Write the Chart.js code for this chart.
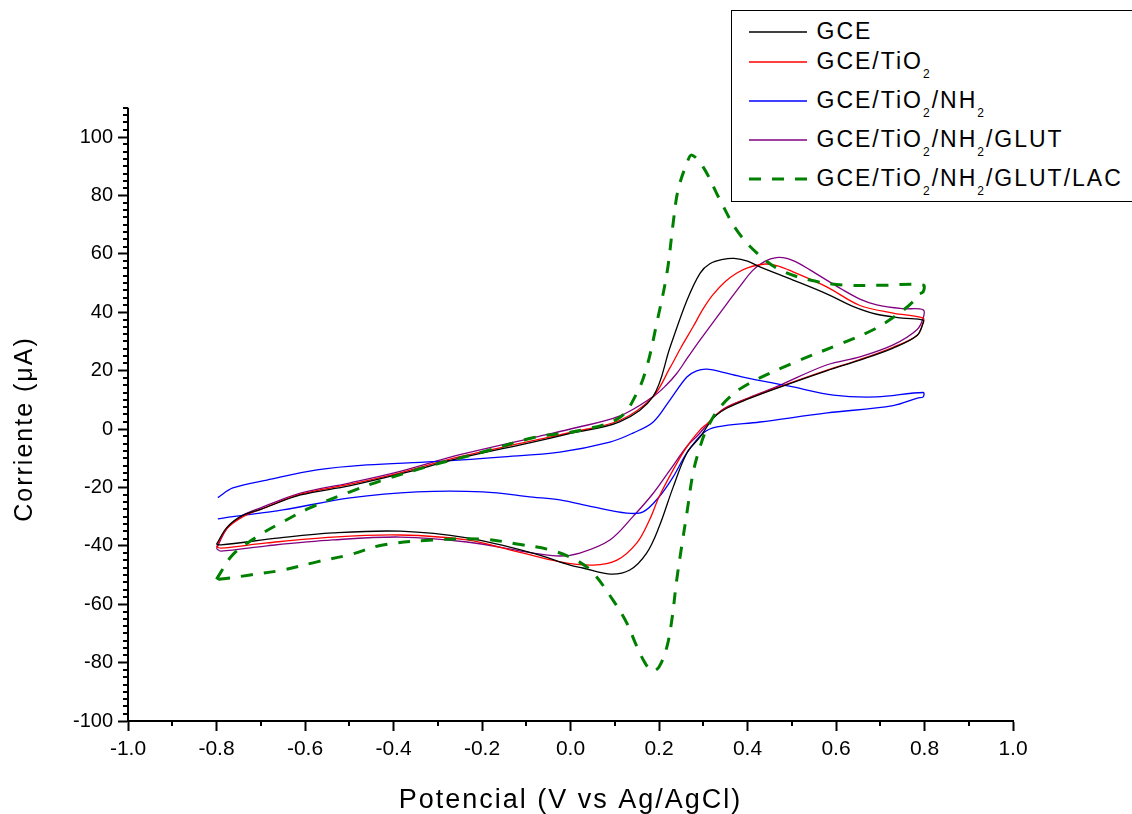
<!DOCTYPE html>
<html>
<head>
<meta charset="utf-8">
<title>Voltamperometría cíclica</title>
<script src="https://cdn.jsdelivr.net/npm/chart.js@4.4.1/dist/chart.umd.min.js"></script>
<style>
  html, body { margin: 0; padding: 0; background: #fff; }
  #wrap { position: relative; width: 1132px; height: 814px; overflow: hidden; }
  #cv { position: absolute; left: 0; top: 0; }
  #legend {
    position: absolute; left: 731px; top: 10px; width: 430px; height: 192px;
    box-sizing: border-box; border: 1.5px solid #000; background: #fff;
    padding-top: 5px;
    font-family: "Liberation Sans", Arial, sans-serif; font-size: 23px;
    letter-spacing: 2px; color: #000;
  }
  #legend .row { position: relative; height: 39px; line-height: 30px; padding-left: 84.5px; white-space: nowrap; }
  #legend .row:first-child { height: 30px; }
  #legend .row svg { position: absolute; left: 16.5px; top: 12.5px; }
  #legend sub { font-size: 12px; vertical-align: baseline; position: relative; top: 9px; line-height: 0; }
</style>
</head>
<body>
<div id="wrap">
  <canvas id="cv" width="1132" height="814"></canvas>
  <div id="legend"></div>
</div>
<script>
// Potential (V) / current (uA), forward scan then reverse scan
const potGCE = [-0.80, -0.776, -0.74, -0.70, -0.61, -0.50, -0.385, -0.25, -0.085, 0.0, 0.112, 0.186, 0.225, 0.263, 0.293, 0.315, 0.345, 0.37, 0.40, 0.428, 0.503, 0.58, 0.638, 0.692, 0.75, 0.797,
                0.797, 0.783, 0.729, 0.654, 0.58, 0.467, 0.40, 0.354, 0.33, 0.315, 0.293, 0.263, 0.232, 0.2, 0.172, 0.134, 0.089, 0.028, -0.001, -0.085, -0.234, -0.385, -0.537, -0.657, -0.79, -0.80];
const curGCE = [-39.5, -33.6, -29.5, -27.5, -22.6, -19.5, -15.4, -10, -4.5, -1.5, 2.5, 11, 28, 44, 53.4, 56.6, 58.1, 58.4, 57.5, 55.5, 51, 46.2, 42, 39.3, 38, 37.3,
                36.3, 32, 27.7, 23.6, 20, 14, 10.2, 7.2, 4.8, 2.3, -2.7, -8.2, -19.9, -33.6, -42.5, -48.3, -49.7, -47.6, -46.6, -42.5, -37.3, -35, -35.6, -37.3, -39.7, -39.5];

const potTiO2 = [-0.80, -0.776, -0.74, -0.70, -0.61, -0.50, -0.385, -0.25, -0.085, 0.0, 0.112, 0.186, 0.225, 0.25, 0.277, 0.30, 0.322, 0.35, 0.376, 0.40, 0.44, 0.47, 0.503, 0.58, 0.654, 0.729, 0.797,
                 0.797, 0.783, 0.729, 0.654, 0.58, 0.467, 0.40, 0.354, 0.33, 0.31, 0.293, 0.263, 0.232, 0.2, 0.179, 0.15, 0.105, 0.051, -0.024, -0.121, -0.234, -0.385, -0.537, -0.686, -0.79, -0.80];
const curTiO2 = [-40.4, -34, -30, -27.5, -22.3, -19, -15, -9.5, -4, -1.2, 3, 11, 21, 28, 35, 41.2, 46, 50.5, 53.4, 55.2, 56.5, 55.8, 53.8, 48.6, 42.3, 39.7, 38,
                 36.5, 32, 28, 23.8, 20.2, 14.2, 10.4, 7.4, 5, 2, -0.3, -6, -14, -23.3, -31, -39, -44.9, -46.6, -45.5, -42, -38, -36.3, -37, -39, -40.8, -40.4];

const potNH2 = [-0.797, -0.763, -0.686, -0.573, -0.46, -0.31, -0.159, -0.024, 0.089, 0.141, 0.187, 0.225, 0.263, 0.285, 0.308, 0.34, 0.39, 0.503, 0.594, 0.692, 0.797,
                0.797, 0.784, 0.729, 0.58, 0.428, 0.331, 0.30, 0.263, 0.232, 0.2, 0.164, 0.127, 0.051, -0.024, -0.085, -0.198, -0.347, -0.498, -0.65, -0.763, -0.797];
const curNH2 = [-23.5, -20.2, -17.5, -14, -12.3, -11.2, -9.6, -7.9, -4.5, -1.4, 2.4, 10, 17.8, 19.9, 20.5, 19.6, 17.8, 14.4, 11.6, 11, 12.5,
                11, 10.6, 8, 5.5, 2.4, 0.7, -1.4, -8.2, -16.4, -23.3, -28.4, -28.8, -26.7, -24.3, -23.3, -21.5, -21.5, -23.6, -27.7, -30, -30.8];

const potGLUT = [-0.80, -0.776, -0.74, -0.70, -0.61, -0.50, -0.385, -0.25, -0.085, 0.0, 0.112, 0.186, 0.215, 0.24, 0.265, 0.293, 0.354, 0.385, 0.413, 0.44, 0.465, 0.489, 0.515, 0.541, 0.616, 0.654, 0.692, 0.75, 0.797,
                 0.797, 0.783, 0.729, 0.654, 0.58, 0.467, 0.40, 0.354, 0.33, 0.315, 0.29, 0.263, 0.225, 0.187, 0.141, 0.089, 0.021, -0.024, -0.085, -0.234, -0.385, -0.537, -0.686, -0.79, -0.80];
const curGLUT = [-41, -34, -29.5, -27, -22, -18.5, -14.5, -8.8, -3, 0, 4.5, 11, 14.8, 19, 24.5, 30.5, 43, 49.3, 54.5, 57.5, 58.7, 58.4, 56.8, 54.5, 47.6, 44.5, 42.5, 41.2, 40.8,
                 38, 34, 28.8, 24.7, 22, 14.6, 10.5, 7.6, 5, 2.6, -1.8, -6, -14, -22, -30, -38, -42.5, -43.5, -42.5, -38.7, -37, -38, -40, -41.8, -41];

const potLAC = [-0.80, -0.79, -0.763, -0.71, -0.65, -0.589, -0.498, -0.424, -0.31, -0.198, -0.085, 0.028, 0.112, 0.15, 0.172, 0.195, 0.218, 0.232, 0.243, 0.263, 0.274, 0.30, 0.338, 0.376, 0.421, 0.473, 0.541, 0.616, 0.70, 0.797,
                0.797, 0.785, 0.774, 0.737, 0.684, 0.616, 0.503, 0.39, 0.338, 0.308, 0.293, 0.277, 0.263, 0.251, 0.24, 0.229, 0.218, 0.2, 0.184, 0.168, 0.15, 0.127, 0.096, 0.051, 0.014, -0.046, -0.121, -0.198, -0.31, -0.424, -0.498, -0.573, -0.65, -0.724, -0.77, -0.80];
const curLAC = [-51.5, -49, -43, -37, -31.8, -27, -21.5, -17.5, -12.3, -7.9, -3, -0.3, 4, 12.3, 21, 36.3, 53.4, 70.5, 81.8, 91, 93.8, 89.7, 78.4, 68, 60.3, 54.5, 51, 49.3, 49.2, 49.3,
                47, 46, 43.6, 39, 34, 29.5, 22.6, 14.4, 7.5, 0, -6, -15, -28.8, -40.4, -51.7, -65.4, -74.5, -81.5, -82.9, -80, -74.5, -66.4, -58.6, -49.3, -45, -41.4, -39.4, -37.7, -38, -39.7, -43, -45.5, -48.3, -50, -51, -51.5];

const seriesLabels = ['GCE', 'GCE/TiO2', 'GCE/TiO2/NH2', 'GCE/TiO2/NH2/GLUT', 'GCE/TiO2/NH2/GLUT/LAC'];
const xTickValues = [-1.0, -0.8, -0.6, -0.4, -0.2, 0.0, 0.2, 0.4, 0.6, 0.8, 1.0];
const yTickValues = [-100, -80, -60, -40, -20, 0, 20, 40, 60, 80, 100];
const yAxisTop = 110;

const FONT = '"Liberation Sans", Arial, sans-serif';

const toPoints = (pot, cur) => pot.map((v, i) => ({ x: v, y: cur[i] }));

const lineStyle = (color, width, dash) => ({
    borderColor: color,
    backgroundColor: color,
    borderWidth: width,
    borderDash: dash || [],
    showLine: true,
    pointRadius: 0,
    pointHoverRadius: 0,
    fill: false,
    tension: 0.35,
});

const datasets = [
    { label: seriesLabels[0], data: toPoints(potGCE, curGCE), ...lineStyle('#000000', 1.3) },
    { label: seriesLabels[1], data: toPoints(potTiO2, curTiO2), ...lineStyle('#ff0000', 1.3) },
    { label: seriesLabels[2], data: toPoints(potNH2, curNH2), ...lineStyle('#0000ff', 1.3) },
    { label: seriesLabels[3], data: toPoints(potGLUT, curGLUT), ...lineStyle('#800080', 1.3) },
    { label: seriesLabels[4], data: toPoints(potLAC, curLAC), ...lineStyle('#008000', 3, [12, 11]), order: -1 },
];

// Legend as html so the subscripts stay real text
const htmlLegend = {
    id: 'htmlLegend',
    afterUpdate(chart) {
        const box = document.getElementById('legend');
        box.innerHTML = '';
        chart.data.datasets.forEach(ds => {
            const row = document.createElement('div');
            row.className = 'row';
            const dash = ds.borderDash.length ? ` stroke-dasharray="${ds.borderDash.join(' ')}"` : '';
            row.innerHTML =
                `<svg width="58" height="6"><line x1="0" y1="3" x2="58" y2="3" stroke="${ds.borderColor}" stroke-width="${ds.borderWidth}"${dash}/></svg>` +
                ds.label.replace(/([OH])2/g, '$1<sub>2</sub>');
            box.appendChild(row);
        });
    }
};

// Axis titles are spaced wider than the tick labels (ticks are drawn at z=1, after datasets)
const titleSpacing = {
    id: 'titleSpacing',
    beforeDraw(chart) { chart.ctx.letterSpacing = '2px'; },
    beforeDatasetsDraw(chart) { chart.ctx.letterSpacing = '0px'; },
};

// Minor ticks and the short piece of y axis above 100
const axisExtras = {
    id: 'axisExtras',
    afterDraw(chart) {
        const { ctx, scales: { x, y } } = chart;
        const left = Math.round(y.right);
        const bottom = Math.round(x.top);
        ctx.save();
        ctx.strokeStyle = '#000';
        ctx.lineWidth = 2;
        ctx.beginPath();
        ctx.moveTo(left, y.getPixelForValue(yTickValues[yTickValues.length - 1]));
        ctx.lineTo(left, y.getPixelForValue(yAxisTop));
        for (let v = -100; v <= yAxisTop + 0.01; v += 2.5) {
            if (v <= 100 && Math.abs(v % 20) < 0.01) continue;
            const py = Math.round(y.getPixelForValue(v));
            ctx.moveTo(left - 5, py);
            ctx.lineTo(left, py);
        }
        for (let k = -9; k <= 9; k += 2) {
            const px = Math.round(x.getPixelForValue(k / 10));
            ctx.moveTo(px, bottom);
            ctx.lineTo(px, bottom + 5);
        }
        ctx.stroke();
        ctx.restore();
    }
};

const ctx = document.getElementById('cv').getContext('2d');
window.cvChart = new Chart(ctx, {
    type: 'scatter',
    data: { datasets },
    options: {
        responsive: false,
        devicePixelRatio: 1,
        animation: false,
        layout: { padding: { left: 0, right: 119, top: 137, bottom: 0 } },
        plugins: {
            legend: { display: false },
            tooltip: { enabled: false },
        },
        scales: {
            x: {
                type: 'linear',
                min: -1,
                max: 1,
                afterBuildTicks: (scale) => { scale.ticks = xTickValues.map(v => ({ value: v })); },
                afterFit: (scale) => { scale.height = 93; },
                ticks: {
                    color: '#000',
                    font: { family: FONT, size: 21 },
                    padding: 6,
                    maxRotation: 0,
                    autoSkip: false,
                    z: 1,
                    callback: (v) => Number(v).toFixed(1),
                },
                grid: { drawOnChartArea: false, drawTicks: true, tickLength: 10, tickWidth: 2, tickColor: '#000', color: '#000' },
                border: { display: true, color: '#000', width: 2 },
                title: {
                    display: true,
                    text: 'Potencial (V vs Ag/AgCl)',
                    color: '#000',
                    font: { family: FONT, size: 27, lineHeight: 1 },
                    padding: { top: 0, bottom: 0 },
                },
            },
            y: {
                type: 'linear',
                min: -100,
                max: 100,
                afterBuildTicks: (scale) => { scale.ticks = yTickValues.map(v => ({ value: v })); },
                afterFit: (scale) => { scale.width = 128; },
                ticks: {
                    color: '#000',
                    font: { family: FONT, size: 20 },
                    padding: 5,
                    autoSkip: false,
                    z: 1,
                    callback: (v) => String(v),
                },
                grid: { drawOnChartArea: false, drawTicks: true, tickLength: 10, tickWidth: 2, tickColor: '#000', color: '#000' },
                border: { display: true, color: '#000', width: 2 },
                title: {
                    display: true,
                    text: 'Corriente (μA)',
                    color: '#000',
                    font: { family: FONT, size: 25, lineHeight: 1 },
                    padding: { top: 13, bottom: 0 },
                },
            },
        },
    },
    plugins: [htmlLegend, titleSpacing, axisExtras],
});
</script>
</body>
</html>
